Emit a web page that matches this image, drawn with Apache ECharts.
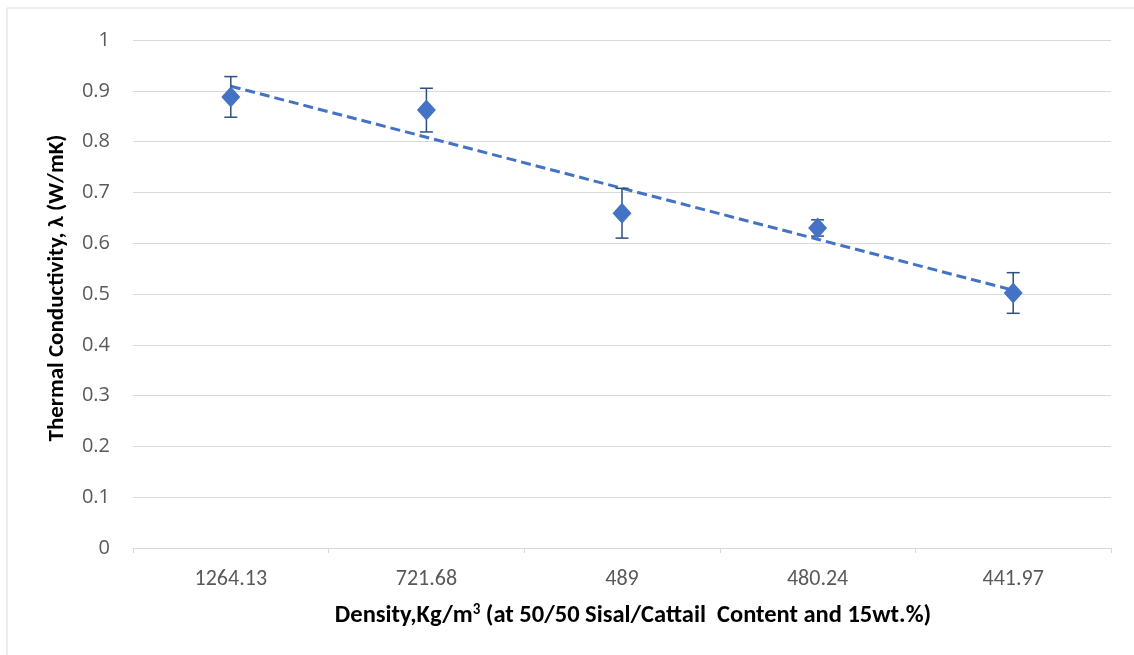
<!DOCTYPE html>
<html>
<head>
<meta charset="utf-8">
<script src="https://cdn.jsdelivr.net/npm/echarts@6/dist/echarts.min.js"></script>
<style>
  html, body { margin: 0; padding: 0; background: #fff; }
  #chart1 { width: 1134px; height: 655px; }
</style>
</head>
<body>
<div id="chart1"></div>
<script>
// 密度类别
const densities = ['1264.13', '721.68', '489', '480.24', '441.97'];
// 导热系数
const conductivity = [0.888, 0.862, 0.659, 0.630, 0.502];
// 误差
const errors = [0.040, 0.043, 0.049, 0.016, 0.040];

const yTicks = [0, 1, 0.1];

// 线性趋势线（最小二乘）
function trendLine(values) {
    const n = values.length;
    const xs = values.map((v, i) => i + 1);
    const mx = xs.reduce((a, b) => a + b, 0) / n;
    const my = values.reduce((a, b) => a + b, 0) / n;
    let sxy = 0, sxx = 0;
    for (let i = 0; i < n; i++) {
        sxy += (xs[i] - mx) * (values[i] - my);
        sxx += (xs[i] - mx) * (xs[i] - mx);
    }
    const k = sxy / sxx;
    return xs.map(x => my + k * (x - mx));
}

function initChart() {
    const chart = echarts.init(document.getElementById('chart1'), null, { renderer: 'canvas' });

    const fontFamily = 'Carlito, "Liberation Sans Narrow", "Open Sans", sans-serif';

    const option = {
        animation: false,
        backgroundColor: '#fff',
        grid: { left: 133, right: 23, top: 40, bottom: 107 },
        graphic: [
            {
                type: 'rect',
                shape: { x: 7, y: 8, width: 1140, height: 660 },
                style: { fill: 'none', stroke: '#D9D9D9', lineWidth: 1 },
                silent: true
            },
            {
                type: 'text',
                x: 57,
                y: 288,
                rotation: Math.PI / 2,
                style: {
                    text: 'Thermal Conductivity, λ (W/mK)',
                    fontFamily: fontFamily,
                    fontWeight: 'bold',
                    fontSize: 23,
                    fill: '#000',
                    align: 'center',
                    verticalAlign: 'middle'
                }
            }
        ],
        xAxis: {
            type: 'category',
            data: densities,
            boundaryGap: true,
            axisLine: { lineStyle: { color: '#D9D9D9', width: 1 } },
            axisTick: { show: true, alignWithLabel: false, length: 5, lineStyle: { color: '#D9D9D9' } },
            axisLabel: { color: '#595959', fontSize: 22, fontFamily: fontFamily, margin: 20 },
            name: '{a|Density,Kg/m}{s|3}{a| (at 50/50 Sisal/Cattail  Content and 15wt.%)}',
            nameLocation: 'middle',
            nameGap: 55,
            nameTextStyle: {
                padding: [0, 0, 0, 22],
                rich: {
                    a: { fontFamily: fontFamily, fontWeight: 'bold', fontSize: 24.5, color: '#000' },
                    s: { fontFamily: fontFamily, fontWeight: 'bold', fontSize: 15, color: '#000', verticalAlign: 'top', padding: [0, 0, 10, 0] }
                }
            }
        },
        yAxis: {
            type: 'value',
            min: yTicks[0],
            max: yTicks[1],
            interval: yTicks[2],
            axisLine: { show: false },
            axisTick: { show: false },
            splitLine: { lineStyle: { color: '#D9D9D9', width: 1 } },
            axisLabel: { color: '#595959', fontSize: 20, fontFamily: '"Open Sans", sans-serif', margin: 23 }
        },
        series: [
            {
                // 趋势线
                type: 'line',
                data: trendLine(conductivity),
                symbol: 'none',
                lineStyle: { color: '#4472C4', width: 3, type: [10, 5] },
                z: 2
            },
            {
                // 误差棒
                type: 'custom',
                data: conductivity.map((v, i) => [i, v - errors[i], v + errors[i]]),
                renderItem: function (params, api) {
                    const lo = api.coord([api.value(0), api.value(1)]);
                    const hi = api.coord([api.value(0), api.value(2)]);
                    const half = 6.5;
                    const style = { stroke: '#2E4F7F', lineWidth: 1.5 };
                    return {
                        type: 'group',
                        children: [
                            { type: 'line', shape: { x1: lo[0], y1: lo[1], x2: hi[0], y2: hi[1] }, style: style },
                            { type: 'line', shape: { x1: lo[0] - half, y1: lo[1], x2: lo[0] + half, y2: lo[1] }, style: style },
                            { type: 'line', shape: { x1: hi[0] - half, y1: hi[1], x2: hi[0] + half, y2: hi[1] }, style: style }
                        ]
                    };
                },
                z: 3
            },
            {
                type: 'scatter',
                data: conductivity,
                symbol: 'diamond',
                symbolSize: [19, 21],
                itemStyle: { color: '#4472C4', opacity: 1 },
                z: 4
            }
        ]
    };

    chart.setOption(option);
}

window.addEventListener('load', initChart);
</script>
</body>
</html>
